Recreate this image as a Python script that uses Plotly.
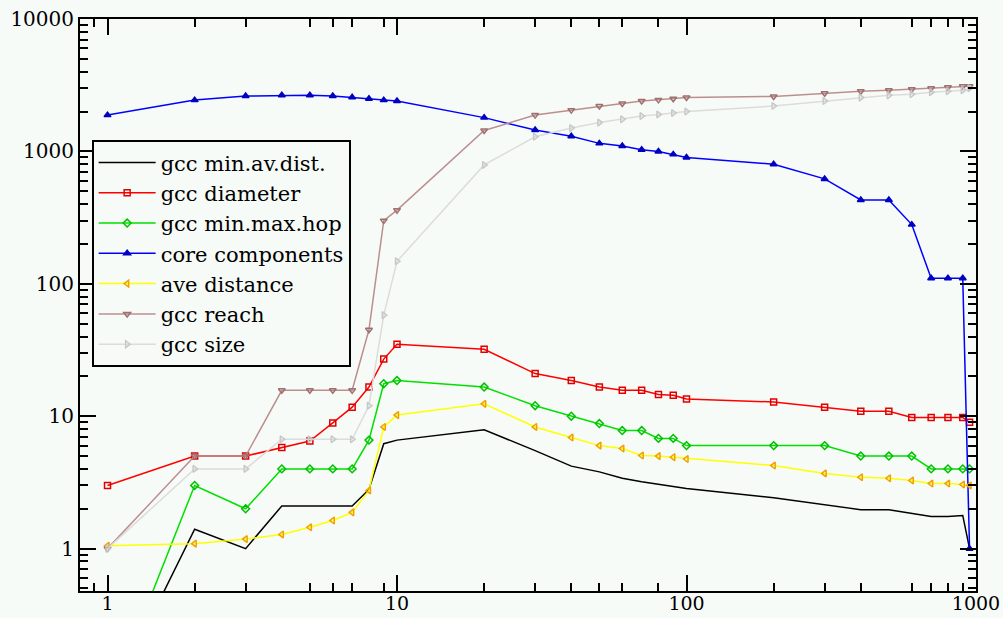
import plotly.graph_objects as go

# ---- data ----
x_vals = [1, 2, 3, 4, 5, 6, 7, 8, 9, 10, 20, 30, 40, 50, 60, 70, 80, 90, 100,
          200, 300, 400, 500, 600, 700, 800, 900, 950]

gcc_min_av_dist = [0.065, 1.4, 1.0, 2.1, 2.1, 2.1, 2.1, 2.8, 6.2, 6.6, 7.9, 5.5, 4.2, 3.8,
                   3.4, 3.2, 3.05, 2.94, 2.85, 2.42, 2.15, 1.97, 1.97, 1.85, 1.75, 1.75,
                   1.78, 1.0]
gcc_diameter = [3, 5, 5, 5.8, 6.5, 8.9, 11.7, 16.6, 27, 35, 32, 21, 18.6, 16.6, 15.7, 15.7,
                14.6, 14.4, 13.5, 12.8, 11.7, 10.9, 10.9, 9.8, 9.8, 9.8, 9.8, 9.0]
gcc_min_max_hop = [0.065, 3, 2, 4, 4, 4, 4, 6.6, 17.6, 18.6, 16.6, 12, 10, 8.8, 7.8, 7.8,
                   6.8, 6.8, 6, 6, 6, 5, 5, 5, 4, 4, 4, 4]
core_components = [1880, 2440, 2620, 2660, 2660, 2620, 2560, 2500, 2440, 2400, 1800, 1450,
                   1300, 1150, 1100, 1030, 1000, 950, 900, 800, 620, 430, 430, 280, 110,
                   110, 110, 1.0]
ave_distance = [1.05, 1.09, 1.18, 1.28, 1.45, 1.63, 1.88, 2.75, 8.3, 10.2, 12.4, 8.3, 6.9,
                6.0, 5.7, 5.05, 5.0, 4.9, 4.75, 4.24, 3.7, 3.46, 3.4, 3.27, 3.1, 3.1,
                3.05, 3.0]
gcc_reach = [1.0, 5, 5, 15.7, 15.7, 15.7, 15.7, 45, 300, 360, 1440, 1880, 2050, 2200,
             2300, 2400, 2450, 2500, 2550, 2600, 2750, 2850, 2900, 2950, 3000, 3050,
             3100, 3100]
gcc_size = [1.0, 4, 4, 6.7, 6.7, 6.7, 6.7, 12, 58, 148, 790, 1290, 1500, 1650, 1750,
            1850, 1900, 1950, 2000, 2200, 2400, 2550, 2650, 2700, 2800, 2850, 2900, 3000]

series_names = ["gcc min.av.dist.", "gcc diameter", "gcc min.max.hop", "core components",
                "ave distance", "gcc reach", "gcc size"]

x_tick_vals = [1, 10, 100, 1000]
x_tick_text = ["1", "10", "100", "1000"]
y_tick_vals = [1, 10, 100, 1000, 10000]
y_tick_text = ["1", "10", "100", "1000", "10000"]
x_minor_vals = [0.9, 2, 3, 5, 6, 7, 9, 20, 30, 40, 50, 60, 80, 200, 300, 400, 600, 700, 800, 900]
y_minor_vals = [0.5, 0.6, 0.7, 0.8, 0.9,
                2, 3, 4, 5, 6, 7, 8, 9,
                20, 30, 40, 50, 60, 70, 80, 90,
                200, 300, 400, 500, 600, 700, 800, 900,
                2000, 3000, 4000, 5000, 6000, 7000, 8000, 9000]

# ---- styles ----
styles = [
    dict(line="#000000", marker=None, mcolor="#000000"),
    dict(line="#ff0000", marker="square-open", mcolor="#e00000"),
    dict(line="#00e000", marker="diamond-open", mcolor="#00c000"),
    dict(line="#0000ff", marker="triangle-up", mcolor="#0000c0"),
    dict(line="#ffff00", marker="triangle-left-open", mcolor="#f0a000"),
    dict(line="#bc8f8f", marker="triangle-down-open", mcolor="#a07070"),
    dict(line="#dcdcdc", marker="triangle-right-open", mcolor="#c8c8c8"),
]
all_y = [gcc_min_av_dist, gcc_diameter, gcc_min_max_hop, core_components,
         ave_distance, gcc_reach, gcc_size]

fig = go.Figure()
for i, (name, ys, st) in enumerate(zip(series_names, all_y, styles)):
    if st["marker"] is None:
        mode = "lines"
        marker = None
    else:
        mode = "lines+markers"
        marker = dict(symbol=st["marker"], size=6, color=st["mcolor"],
                      line=dict(color=st["mcolor"], width=1.5))
    fig.add_trace(go.Scatter(
        x=x_vals, y=ys, name=name, mode=mode,
        line=dict(color=st["line"], width=1.5),
        marker=marker,
    ))

bg = "#f7fbf7"
font_family = "DejaVu Serif, Liberation Serif, serif"

fig.update_layout(
    width=1003, height=618,
    margin=dict(l=80, r=27, t=19, b=27),
    paper_bgcolor=bg, plot_bgcolor=bg,
    font=dict(family=font_family, size=20, color="#000000"),
    showlegend=True,
    legend=dict(
        x=0.013, y=0.788, xanchor="left", yanchor="top",
        bgcolor=bg, bordercolor="#000000", borderwidth=2,
        font=dict(family=font_family, size=21, color="#000000"),
        tracegroupgap=0, itemwidth=57,
    ),
    xaxis=dict(
        type="log", range=[-0.095, 3.0], automargin=False,
        tickmode="array", tickvals=x_tick_vals, ticktext=x_tick_text,
        ticks="inside", ticklen=16, tickwidth=2, tickcolor="#000000",
        ticklabelstandoff=-6,
        showline=True, linecolor="#000000", linewidth=2, mirror="allticks",
        showgrid=False, zeroline=False,
        tickfont=dict(family=font_family, size=19, color="#000000"),
        minor=dict(tickmode="array", tickvals=x_minor_vals, ticks="inside",
                   ticklen=8, tickwidth=2, tickcolor="#000000", showgrid=False),
    ),
    yaxis=dict(
        type="log", range=[-0.32, 4.0], automargin=False,
        tickmode="array", tickvals=y_tick_vals, ticktext=y_tick_text,
        ticks="inside", ticklen=16, tickwidth=2, tickcolor="#000000",
        showline=True, linecolor="#000000", linewidth=2, mirror="allticks",
        showgrid=False, zeroline=False,
        tickfont=dict(family=font_family, size=20, color="#000000"),
        minor=dict(tickmode="array", tickvals=y_minor_vals, ticks="inside",
                   ticklen=8, tickwidth=2, tickcolor="#000000", showgrid=False),
    ),
)

fig.write_html(
    "out.html",
    config={"displayModeBar": False},
    post_script="document.body.style.margin='0';document.body.style.background='" + bg + "';",
)
